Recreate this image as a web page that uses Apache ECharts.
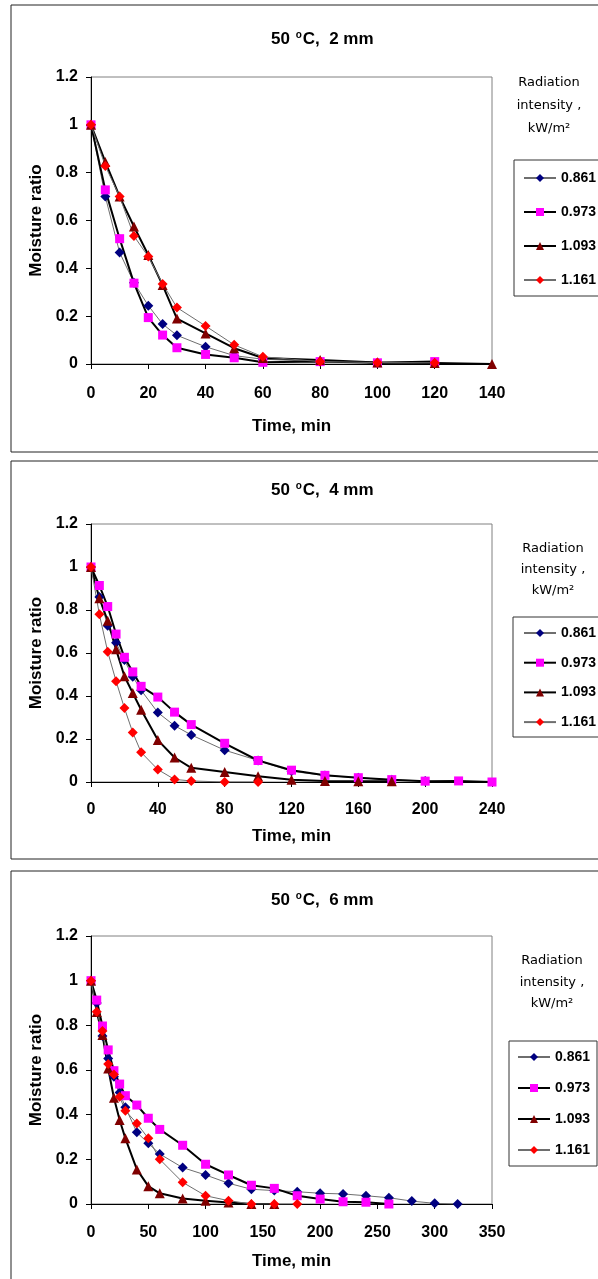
<!DOCTYPE html>
<html>
<head>
<meta charset="utf-8">
<style>
html,body{margin:0;padding:0;background:#fff;}
#c{width:598px;height:1279px;}
</style>
<script src="https://cdn.jsdelivr.net/npm/echarts@6/dist/echarts.min.js"></script>
</head>
<body>
<div id="c"></div>
<script>
// ---------- DATA ----------
const seriesNames = ['0.861', '0.973', '1.093', '1.161'];
const yTicks = [0, 0.2, 0.4, 0.6, 0.8, 1, 1.2];

// Panel 1: 50 °C, 2 mm
const time2mm = [0, 5, 10, 15, 20, 25, 30, 40, 50, 60, 80, 100, 120, 140];
const mr2mm_0861 = [1, 0.70, 0.466, 0.34, 0.244, 0.167, 0.12, 0.072, 0.035, 0.02, 0.01, 0.005, 0.004];
const mr2mm_0973 = [1, 0.728, 0.524, 0.338, 0.194, 0.121, 0.068, 0.04, 0.026, 0.007, 0.01, 0.005, 0.01];
const mr2mm_1093 = [1, 0.845, 0.70, 0.575, 0.456, 0.33, 0.19, 0.128, 0.066, 0.025, 0.017, 0.006, 0.004, 0];
const mr2mm_1161 = [1, 0.828, 0.70, 0.535, 0.449, 0.335, 0.236, 0.159, 0.08, 0.03, 0.01, 0.006, 0.005];

// Panel 2: 50 °C, 4 mm
const time4mm = [0, 5, 10, 15, 20, 25, 30, 40, 50, 60, 80, 100, 120, 140, 160, 180, 200, 220, 240];
const mr4mm_0861 = [1, 0.86, 0.727, 0.648, 0.567, 0.49, 0.427, 0.323, 0.262, 0.219, 0.148, 0.10, 0.05, 0.03, 0.02, 0.01, 0.005];
const mr4mm_0973 = [1, 0.914, 0.816, 0.688, 0.58, 0.512, 0.445, 0.395, 0.325, 0.267, 0.18, 0.10, 0.055, 0.031, 0.02, 0.011, 0.004, 0.005, 0];
const mr4mm_1093 = [1, 0.855, 0.75, 0.617, 0.492, 0.414, 0.336, 0.195, 0.114, 0.066, 0.047, 0.027, 0.011, 0.005, 0.004, 0.003];
const mr4mm_1161 = [1, 0.78, 0.606, 0.469, 0.344, 0.23, 0.138, 0.058, 0.012, 0.005, 0, 0];

// Panel 3: 50 °C, 6 mm
const time6mm = [0, 5, 10, 15, 20, 25, 30, 40, 50, 60, 80, 100, 120, 140, 160, 180, 200, 220, 240, 260, 280, 300, 320];
const mr6mm_0861 = [1, 0.9, 0.752, 0.652, 0.57, 0.499, 0.433, 0.321, 0.272, 0.224, 0.163, 0.13, 0.093, 0.066, 0.06, 0.055, 0.048, 0.045, 0.037, 0.028, 0.013, 0.003, 0];
const mr6mm_0973 = [1, 0.913, 0.797, 0.69, 0.597, 0.537, 0.485, 0.443, 0.384, 0.334, 0.263, 0.178, 0.13, 0.084, 0.07, 0.037, 0.022, 0.01, 0.008, 0];
const mr6mm_1093 = [1, 0.86, 0.757, 0.607, 0.476, 0.376, 0.294, 0.155, 0.08, 0.048, 0.025, 0.015, 0.007, 0, 0];
const mr6mm_1161 = [1, 0.861, 0.775, 0.627, 0.58, 0.48, 0.418, 0.361, 0.294, 0.2, 0.097, 0.037, 0.015, 0, 0, 0];

const panelTitles = ['2 mm', '4 mm', '6 mm'];
const xMax = [140, 240, 350];
const xStep = [20, 40, 50];
const xName = 'Time, min';
const yName = 'Moisture ratio';
const legendTitle = 'Radiation\nintensity ,\nkW/m\u00B2';

// ---------- LAYOUT / STYLE ----------
const FONT = '"Liberation Sans", Arial, sans-serif';
const panels = [
  {time: time2mm, vals: [mr2mm_0861, mr2mm_0973, mr2mm_1093, mr2mm_1161],
   grid: {left: 91, top: 77, width: 401, height: 287}, labelMargin: 22, nameGap: 53.5,
   frameTop: 5, frameBottom: 452, titleY: 25,
   legTitle: {x: 549, y: 71, lh: 23}, legBox: {x: 514, y: 160, w: 100, h: 136},
   legend: {left: 523, top: 170, gap: 18}},
  {time: time4mm, vals: [mr4mm_0861, mr4mm_0973, mr4mm_1093, mr4mm_1161],
   grid: {left: 91, top: 524, width: 401, height: 258}, labelMargin: 20, nameGap: 45.5,
   frameTop: 461, frameBottom: 859, titleY: 476,
   legTitle: {x: 553, y: 538, lh: 21}, legBox: {x: 513, y: 617, w: 100, h: 120},
   legend: {left: 523, top: 625, gap: 13.7}},
  {time: time6mm, vals: [mr6mm_0861, mr6mm_0973, mr6mm_1093, mr6mm_1161],
   grid: {left: 91, top: 936, width: 401, height: 268}, labelMargin: 21, nameGap: 48.5,
   frameTop: 871, frameBottom: 1300, titleY: 886,
   legTitle: {x: 552, y: 950, lh: 21.5}, legBox: {x: 509, y: 1041, w: 88, h: 125},
   legend: {left: 517, top: 1049, gap: 15}}
];

const seriesStyle = [
  {color: '#000080', line: '#6e6e6e', width: 1, symbol: 'diamond', size: 10},
  {color: '#FF00FF', line: '#000000', width: 2, symbol: 'rect', size: 9},
  {color: '#800000', line: '#000000', width: 2, symbol: 'triangle', size: 10},
  {color: '#FF0000', line: '#6e6e6e', width: 1, symbol: 'diamond', size: 10}
];

const chart = echarts.init(document.getElementById('c'), null, {renderer: 'canvas'});

const grids = [], xAxes = [], yAxes = [], series = [], legends = [], titles = [], graphics = [];
panels.forEach((p, pi) => {
  grids.push(Object.assign({show: true, borderColor: '#808080', borderWidth: 1, backgroundColor: 'transparent'}, p.grid));
  xAxes.push({
    type: 'value', gridIndex: pi, min: 0, max: xMax[pi], interval: xStep[pi],
    name: xName, nameLocation: 'middle', nameGap: p.nameGap,
    nameTextStyle: {fontFamily: FONT, fontWeight: 'bold', fontSize: 17, color: '#000'},
    axisLine: {show: true, lineStyle: {color: '#000', width: 1}},
    axisTick: {show: true, inside: false, length: 5, lineStyle: {color: '#000'}},
    axisLabel: {margin: p.labelMargin, fontFamily: FONT, fontWeight: 'bold', fontSize: 16, color: '#000'},
    splitLine: {show: false}
  });
  yAxes.push({
    type: 'value', gridIndex: pi, min: 0, max: 1.2, interval: 0.2,
    name: yName, nameLocation: 'middle', nameGap: 37, nameRotate: 90,
    nameTextStyle: {fontFamily: FONT, fontWeight: 'bold', fontSize: 17, color: '#000'},
    axisLine: {show: true, lineStyle: {color: '#000', width: 1}},
    axisTick: {show: true, inside: false, length: 5, lineStyle: {color: '#000'}},
    axisLabel: {margin: 13, fontFamily: FONT, fontWeight: 'bold', fontSize: 16, color: '#000',
      formatter: v => String(Math.round(v * 10) / 10)},
    splitLine: {show: false}
  });
  p.vals.forEach((vals, si) => {
    const st = seriesStyle[si];
    series.push({
      type: 'line', name: seriesNames[si], xAxisIndex: pi, yAxisIndex: pi,
      data: vals.map((v, i) => [p.time[i], v]),
      symbol: st.symbol, symbolSize: st.size, showAllSymbol: true,
      itemStyle: {color: st.color},
      lineStyle: {color: st.line, width: st.width},
      legendHoverLink: false, animation: false
    });
  });
  legends.push({
    show: true, orient: 'vertical', left: p.legend.left, top: p.legend.top,
    itemWidth: 32, itemHeight: 10, itemGap: p.legend.gap,
    data: seriesNames.map(n => ({name: n})),
    textStyle: {fontFamily: FONT, fontWeight: 'bold', fontSize: 14, lineHeight: 16, color: '#000'},
    selectedMode: false,
    padding: 0
  });
  titles.push({
    text: '50 {s|o}C,  ' + panelTitles[pi],
    left: 266, top: p.titleY,
    textStyle: {fontFamily: FONT, fontWeight: 'bold', fontSize: 17, color: '#000',
      rich: {s: {fontFamily: FONT, fontWeight: 'bold', fontSize: 10, color: '#000', padding: [0, 1, 8, 1]}}}
  });
  graphics.push({
    type: 'rect', silent: true, z: -1,
    shape: {x: 11, y: p.frameTop, width: 620, height: p.frameBottom - p.frameTop},
    style: {fill: 'none', stroke: '#222', lineWidth: 1}
  });
  graphics.push({
    type: 'rect', silent: true,
    shape: {x: p.legBox.x, y: p.legBox.y, width: p.legBox.w, height: p.legBox.h},
    style: {fill: 'none', stroke: '#333', lineWidth: 1}
  });
  graphics.push({
    type: 'text', silent: true, x: p.legTitle.x, y: p.legTitle.y,
    style: {text: legendTitle, textAlign: 'center', textVerticalAlign: 'top',
      font: '13px "DejaVu Sans", sans-serif', lineHeight: p.legTitle.lh, fill: '#000'}
  });
});

chart.setOption({
  animation: false,
  backgroundColor: '#fff',
  title: titles,
  grid: grids,
  xAxis: xAxes,
  yAxis: yAxes,
  legend: legends,
  series: series,
  graphic: graphics
});
</script>
</body>
</html>
